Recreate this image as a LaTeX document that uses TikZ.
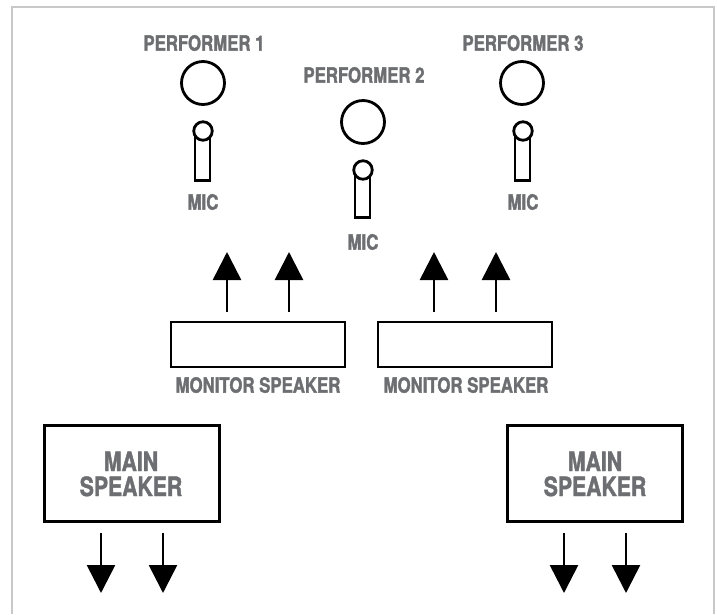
\documentclass[tikz,border=0pt]{standalone}
\usepackage{fontspec}
\setmainfont{TeX Gyre Heros}
\newfontfamily\condfont[FakeStretch=0.8, FakeBold=1.6]{texgyreheros-bold.otf}
\usetikzlibrary{arrows.meta}
\definecolor{labelgray}{HTML}{6D6E71}
\definecolor{framegray}{HTML}{C8C8C8}
\begin{document}
\begin{tikzpicture}[x=1pt,y=-1pt,
  lbl/.style={font=\condfont\fontsize{21}{21}\selectfont, text=labelgray, inner sep=0pt},
  biglbl/.style={font=\condfont\fontsize{26.5}{25}\selectfont, text=labelgray, align=center, inner sep=0pt},
  outline/.style={draw=black, line width=2.8pt},
  head/.style={outline, circle, minimum size=43pt, inner sep=0pt},
  michead/.style={outline, circle, minimum size=18.5pt, inner sep=0pt, fill=white},
  micbody/.style={outline, rectangle, minimum width=15pt, inner sep=0pt, anchor=south},
  monbox/.style={outline, rectangle, minimum width=174pt, minimum height=45pt, inner sep=0pt},
  mainbox/.style={outline, rectangle, minimum width=175pt, minimum height=96pt, inner sep=0pt},
  arr/.style={line width=2.6pt, -{Triangle[width=28pt,length=28pt]}},
]
\useasboundingbox (0,0) rectangle (717,614);
\draw[framegray, line width=1.5pt] (12,614) -- (12,7) -- (714,7) -- (714,614);

% Performer 1
\node[lbl] (p1) at (204,43) {PERFORMER 1};
\node[head] (h1) at (203,83) {};
\node[micbody, minimum height=44pt] (b1) at (202.5,182) {};
\node[michead] (m1) at (203,131) {};
\node[lbl] (t1) at (203,202) {MIC};

% Performer 2
\node[lbl] (p2) at (364,75) {PERFORMER 2};
\node[head] (h2) at (363,122) {};
\node[micbody, minimum height=41pt] (b2) at (362.5,219) {};
\node[michead] (m2) at (363,170) {};
\node[lbl] (t2) at (363,242) {MIC};

% Performer 3
\node[lbl] (p3) at (523,43) {PERFORMER 3};
\node[head] (h3) at (522,83) {};
\node[micbody, minimum height=44pt] (b3) at (522.5,182) {};
\node[michead] (m3) at (523,131) {};
\node[lbl] (t3) at (523,202) {MIC};

% Monitor speakers
\node[monbox] (mon1) at (258,344.5) {};
\node[lbl] (ml1) at (258,385) {MONITOR SPEAKER};
\node[monbox] (mon2) at (465,344.5) {};
\node[lbl] (ml2) at (466,385) {MONITOR SPEAKER};

\coordinate (u1s) at (227,312); \coordinate (u1e) at (227,252);
\coordinate (u2s) at (289,312); \coordinate (u2e) at (289,252);
\coordinate (u3s) at (434,312); \coordinate (u3e) at (434,252);
\coordinate (u4s) at (496,312); \coordinate (u4e) at (496,252);
\draw[arr] (u1s) -- (u1e);
\draw[arr] (u2s) -- (u2e);
\draw[arr] (u3s) -- (u3e);
\draw[arr] (u4s) -- (u4e);

% Main speakers
\node[mainbox] (ms1) at (132,473.5) {};
\node[biglbl] (ms1t) at (131,474) {MAIN\\SPEAKER};
\node[mainbox] (ms2) at (595,473.5) {};
\node[biglbl] (ms2t) at (595,474) {MAIN\\SPEAKER};

\coordinate (d1s) at (101,533); \coordinate (d1e) at (101,593);
\coordinate (d2s) at (163,533); \coordinate (d2e) at (163,593);
\coordinate (d3s) at (564,533); \coordinate (d3e) at (564,593);
\coordinate (d4s) at (626,533); \coordinate (d4e) at (626,593);
\draw[arr] (d1s) -- (d1e);
\draw[arr] (d2s) -- (d2e);
\draw[arr] (d3s) -- (d3e);
\draw[arr] (d4s) -- (d4e);
\end{tikzpicture}
\end{document}
